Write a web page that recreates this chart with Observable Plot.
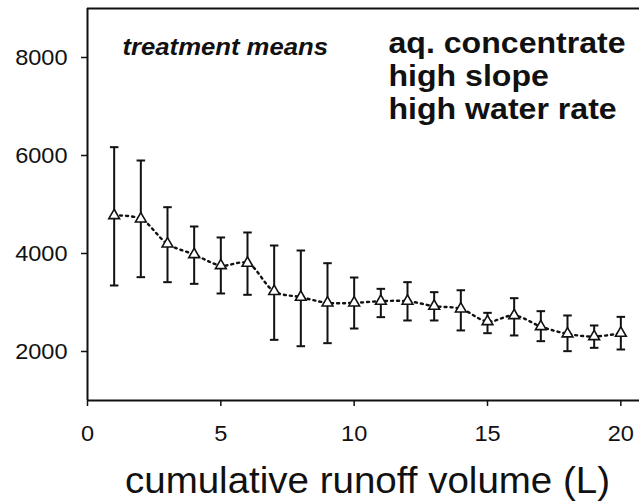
<!DOCTYPE html>
<html>
<head>
<meta charset="utf-8">
<script src="https://cdn.jsdelivr.net/npm/d3@7"></script>
<script src="https://cdn.jsdelivr.net/npm/@observablehq/plot@0.6"></script>
<style>
  html, body { margin: 0; padding: 0; background: #fff; }
  svg { display: block; }
  g[aria-label$="tick label"] { font-size: 22px; }
</style>
</head>
<body>
<div id="chart"></div>
<script>
const volume = [1, 2, 3, 4, 5, 6, 7, 8, 9, 10, 11, 12, 13, 14, 15, 16, 17, 18, 19, 20];
const meanConc = [4776, 4707, 4197, 3980, 3755, 3803, 3228, 3109, 2993, 2993, 3027, 3027, 2925, 2871, 2612, 2735, 2510, 2361, 2306, 2374];
const upperConc = [6170, 5898, 4945, 4551, 4327, 4429, 4163, 4061, 3802, 3510, 3279, 3415, 3211, 3250, 2789, 3088, 2823, 2735, 2531, 2707];
const lowerConc = [3347, 3517, 3415, 3381, 3184, 3157, 2238, 2108, 2170, 2469, 2701, 2633, 2633, 2430, 2374, 2327, 2211, 2007, 2075, 2041];
const xTicks = [0, 5, 10, 15, 20];
const yTicks = [2000, 4000, 6000, 8000];
const xDomain = [0, 20.7];
const yDomain = [1000, 9000];
const cornerLabel = "treatment means";
const treatmentLabel = "aq. concentrate\nhigh slope\nhigh water rate";
const xLabel = "cumulative runoff volume (L)";

const data = volume.map((v, i) => ({x: v, mean: meanConc[i], hi: upperConc[i], lo: lowerConc[i]}));
const capHalf = 0.16;
const ink = "#111";
const font = "'Liberation Sans', Arial, sans-serif";
const stretch = 1.07;

const chart = Plot.plot({
  width: 639,
  height: 503,
  marginLeft: 87,
  marginRight: 0,
  marginTop: 8,
  marginBottom: 103,
  style: {fontFamily: font, color: ink, background: "#fff"},
  x: {domain: xDomain, ticks: xTicks, label: null},
  y: {domain: yDomain, ticks: yTicks, label: null},
  marks: [
    Plot.axisX({ticks: xTicks, tickSize: 6, tickPadding: 19, fontSize: 22, label: null, stroke: ink, strokeWidth: 1.5, tickFormat: d => String(d)}),
    Plot.axisY({ticks: yTicks, tickSize: 6, tickPadding: 14, fontSize: 22, label: null, stroke: ink, strokeWidth: 1.5, tickFormat: d => String(d)}),
    Plot.ruleY([yDomain[0]], {stroke: ink, strokeWidth: 2}),
    Plot.ruleY([yDomain[1]], {stroke: ink, strokeWidth: 2}),
    Plot.ruleX([xDomain[0]], {stroke: ink, strokeWidth: 2}),
    Plot.line(data, {x: "x", y: "mean", stroke: ink, strokeWidth: 2.4, strokeDasharray: "2,4", curve: "catmull-rom"}),
    Plot.ruleX(data, {x: "x", y1: "lo", y2: "hi", stroke: ink, strokeWidth: 2}),
    Plot.link(data, {x1: d => d.x - capHalf, x2: d => d.x + capHalf, y1: "hi", y2: "hi", stroke: ink, strokeWidth: 2}),
    Plot.link(data, {x1: d => d.x - capHalf, x2: d => d.x + capHalf, y1: "lo", y2: "lo", stroke: ink, strokeWidth: 2}),
    Plot.dot(data, {x: "x", y: "mean", symbol: "triangle", r: 4, fill: "white", stroke: ink, strokeWidth: 1.6}),
    Plot.text([cornerLabel], {frameAnchor: "top-left", dx: 35, dy: 46, text: d => d, textAnchor: "start", lineAnchor: "bottom", fontSize: 24, fontWeight: "bold", fontStyle: "italic", fill: ink}),
    Plot.text([treatmentLabel], {frameAnchor: "top-left", dx: 301, dy: 110, text: d => d, textAnchor: "start", lineAnchor: "bottom", fontSize: 30, lineHeight: 1.1, fontWeight: "bold", fill: ink}),
    Plot.text([xLabel], {frameAnchor: "bottom", dx: 4, dy: 92, text: d => d, textAnchor: "middle", lineAnchor: "bottom", fontSize: 36, fill: ink})
  ]
});
// The reference glyphs are slightly wider than Liberation Sans: stretch each label about its anchor.
chart.querySelectorAll("text").forEach(el => {
  const t = el.getAttribute("transform");
  if (t && t.includes("translate")) {
    el.setAttribute("transform", `${t} scale(${stretch},1)`);
  } else {
    const x = +(el.getAttribute("x") || 0);
    const y = el.getAttribute("y");
    const yNum = y && !String(y).includes("em") ? +y : 0;
    el.removeAttribute("x");
    if (yNum) el.removeAttribute("y");
    el.setAttribute("transform", `translate(${x},${yNum}) scale(${stretch},1)`);
  }
});
chart.querySelectorAll('g[aria-label$="tick label"]').forEach(g => g.setAttribute("font-size", 22));
document.getElementById("chart").appendChild(chart);
</script>
</body>
</html>
